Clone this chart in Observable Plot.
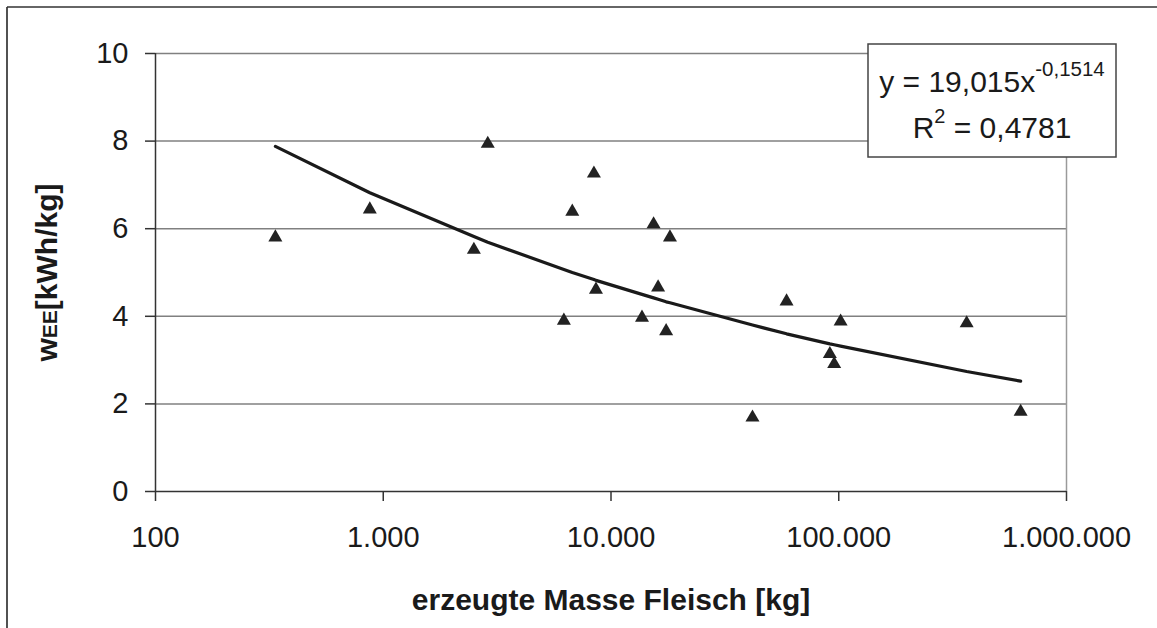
<!DOCTYPE html>
<html>
<head>
<meta charset="utf-8">
<script src="https://cdn.jsdelivr.net/npm/d3@7"></script>
<script src="https://cdn.jsdelivr.net/npm/@observablehq/plot@0.6"></script>
<style>
  html, body { margin: 0; padding: 0; background: #fff; }
  #chart svg { display: block; }
</style>
</head>
<body>
<div id="chart"></div>
<script>
// ---- data ----
const massKg = [336, 873, 2877, 2500, 8414, 6761, 15380, 18150, 8590, 16100, 6210, 13680, 17460, 59000, 101900, 364500, 91400, 95500, 41800, 629000];
const wEE    = [5.80, 6.44, 7.94, 5.52, 7.26, 6.39, 6.10, 5.80, 4.61, 4.66, 3.90, 3.97, 3.66, 4.34, 3.88, 3.84, 3.14, 2.91, 1.69, 1.82];

// power trendline y = 19,015 x^-0,1514 evaluated at the sorted data x values
const trendX = [336, 873, 2500, 2877, 6210, 6761, 8414, 8590, 13680, 15380, 16100, 17460, 18150, 41800, 59000, 91400, 95500, 101900, 364500, 629000];
const trendY = [7.88, 6.82, 5.82, 5.69, 5.07, 5.00, 4.84, 4.82, 4.50, 4.42, 4.39, 4.33, 4.31, 3.80, 3.60, 3.37, 3.35, 3.32, 2.74, 2.52];

const xTicks = [100, 1000, 10000, 100000, 1000000];
const yTicks = [0, 2, 4, 6, 8, 10];
const yGrid  = [2, 4, 6, 8, 10];

const xTitle = "erzeugte Masse Fleisch [kg]";
const yTitle = "wEE[kWh/kg]";
const fitCoef = "19,015";
const fitExp  = "-0,1514";
const fitR2   = "0,4781";

// ---- build ----
const points = massKg.map((x, i) => ({x, y: wEE[i]}));
const trend  = trendX.map((x, i) => ({x, y: trendY[i]}));
const de = d3.formatLocale({decimal: ",", thousands: ".", grouping: [3], currency: ["", "€"]});
const fmt = de.format(",d");
const FONT = "'Liberation Sans', Arial, Helvetica, sans-serif";
const INK = "#1a1a1a";

const chart = Plot.plot({
  width: 1157,
  height: 628,
  marginLeft: 155,
  marginRight: 91,
  marginTop: 53,
  marginBottom: 137,
  style: {fontFamily: FONT, fontSize: "29px", color: INK, background: "white", overflow: "visible"},
  x: {type: "log", domain: [100, 1000000]},
  y: {domain: [0, 10]},
  marks: [
    Plot.gridY(yGrid, {stroke: "#808080", strokeOpacity: 1, strokeWidth: 1.5}),
    Plot.ruleX([1000000], {stroke: "#9a9a9a", strokeWidth: 1.5}),
    Plot.axisY(yTicks, {tickSize: 10, tickPadding: 17, stroke: "#333", strokeWidth: 1.5, fill: INK, tickFormat: d => String(d), fontSize: 29, label: null}),
    Plot.axisX(xTicks, {tickSize: 10, tickPadding: 25, stroke: "#333", strokeWidth: 1.5, fill: INK, tickFormat: fmt, fontSize: 29, label: null}),
    Plot.ruleY([0], {stroke: "#333", strokeWidth: 1.5}),
    Plot.ruleX([100], {stroke: "#333", strokeWidth: 1.5}),
    Plot.line(trend, {x: "x", y: "y", stroke: INK, strokeWidth: 3.2}),
    Plot.dot(points, {x: "x", y: "y", symbol: "triangle", r: 5.2, fill: "#222", stroke: "none"}),
    Plot.text([xTitle], {frameAnchor: "bottom", textAnchor: "middle", dy: 118, fontWeight: "bold", fontSize: 30, fill: INK}),
    Plot.text([yTitle], {frameAnchor: "left", textAnchor: "middle", lineAnchor: "middle", rotate: -90, dx: -108, fontWeight: "bold", fontSize: 30, fill: INK})
  ]
});

document.getElementById("chart").appendChild(chart);
const svg = d3.select(chart);

// subscript-like "EE" in the y title
svg.selectAll("text").filter(function () { return this.textContent === yTitle; }).each(function () {
  const t = d3.select(this);
  t.text(null);
  t.append("tspan").text("w");
  t.append("tspan").attr("font-size", 21).text("EE");
  t.append("tspan").text("[kWh/kg]");
});

// outer chart frame (left and top edges)
const frame = svg.append("g").attr("stroke", "#333").attr("stroke-width", 1.7);
frame.append("line").attr("x1", 7).attr("y1", 7).attr("x2", 7).attr("y2", 628);
frame.append("line").attr("x1", 7).attr("y1", 7).attr("x2", 1157).attr("y2", 7);

// trendline equation box
const box = svg.append("g").attr("font-family", FONT).attr("fill", INK);
box.append("rect").attr("x", 868).attr("y", 44).attr("width", 248).attr("height", 113)
  .attr("fill", "white").attr("stroke", "#444").attr("stroke-width", 1.5);
const l1 = box.append("text").attr("x", 992).attr("y", 92).attr("text-anchor", "middle").attr("font-size", 30);
l1.append("tspan").text("y = " + fitCoef + "x");
l1.append("tspan").attr("font-size", 20.5).attr("dy", -16).text(fitExp);
const l2 = box.append("text").attr("x", 992).attr("y", 138).attr("text-anchor", "middle").attr("font-size", 30);
l2.append("tspan").text("R");
l2.append("tspan").attr("font-size", 20).attr("dy", -15).text("2");
l2.append("tspan").attr("dy", 15).text(" = " + fitR2);
</script>
</body>
</html>
